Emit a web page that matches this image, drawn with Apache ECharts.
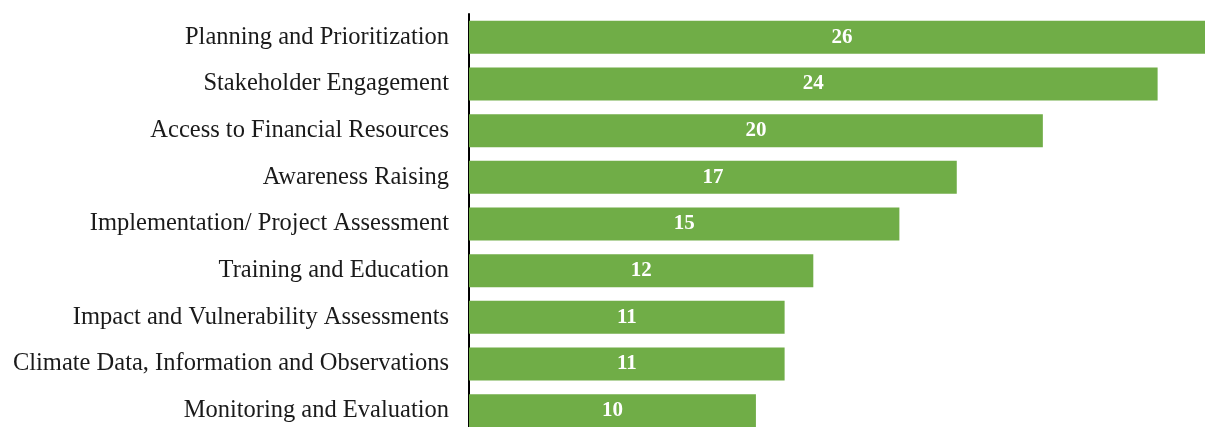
<!DOCTYPE html>
<html>
<head>
<meta charset="utf-8">
<script src="https://cdn.jsdelivr.net/npm/echarts@6/dist/echarts.min.js"></script>
<style>
  html, body { margin: 0; padding: 0; background: #fff; overflow: hidden; width: 1205px; height: 427px; }
  /* The drawing area is a bit larger than the page, so the longest bar and the last row run off the edges */
  #chart { width: 1215px; height: 434px; }
</style>
</head>
<body>
<div id="chart"></div>
<script>
// Capacity-building focus areas, listed top to bottom
const categories = [
  'Planning and Prioritization',
  'Stakeholder Engagement',
  'Access to Financial Resources',
  'Awareness Raising',
  'Implementation/ Project Assessment',
  'Training and Education',
  'Impact and Vulnerability Assessments',
  'Climate Data, Information and Observations',
  'Monitoring and Evaluation'
];
const counts = [26, 24, 20, 17, 15, 12, 11, 11, 10];

const chart = echarts.init(document.getElementById('chart'), null, { renderer: 'canvas' });

chart.setOption({
  animation: false,
  grid: { left: 469, right: 0, top: 14, bottom: 0, containLabel: false },
  xAxis: {
    type: 'value',
    min: 0,
    max: 26,
    show: false
  },
  yAxis: {
    type: 'category',
    inverse: true,
    data: categories,
    axisLine: { show: true, lineStyle: { color: '#000', width: 2 } },
    axisTick: { show: false },
    axisLabel: {
      margin: 20,
      color: '#1a1a1a',
      fontFamily: '"Liberation Serif", "Times New Roman", serif',
      fontSize: 24.5
    }
  },
  series: [{
    type: 'bar',
    data: counts,
    barWidth: 33,
    itemStyle: { color: '#70AD47' },
    label: {
      show: true,
      position: 'inside',
      color: '#fff',
      fontWeight: 'bold',
      fontFamily: '"Liberation Serif", "Times New Roman", serif',
      fontSize: 21
    }
  }]
});
</script>
</body>
</html>
